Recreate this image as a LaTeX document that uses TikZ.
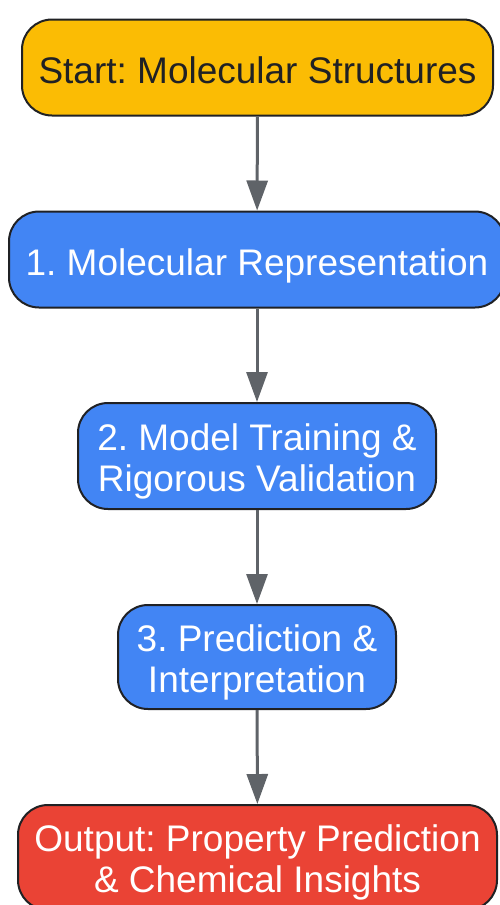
\documentclass[tikz,border=0pt]{standalone}
\usepackage{fontspec}
\setmainfont{Liberation Sans}
\usetikzlibrary{arrows.meta}
\definecolor{startyellow}{HTML}{FBBC04}
\definecolor{stepblue}{HTML}{4285F4}
\definecolor{outred}{HTML}{EA4335}
\definecolor{boxline}{HTML}{202124}
\definecolor{arrowgray}{HTML}{5F6368}
\frenchspacing
\begin{document}
\begin{tikzpicture}[x=1pt,y=1pt,
  box/.style={draw=boxline,line width=2pt,rounded corners=30pt,align=center,inner sep=0pt,text=white,text height=31pt,text depth=0pt,font=\fontsize{37}{41}\selectfont},
  twoline/.style={text height=72pt,text depth=2pt},
  flow/.style={draw=arrowgray,line width=3pt,-{Triangle[width=21pt,length=30pt]}}]
\useasboundingbox (0,0) rectangle (499,-905);
\node[box,fill=startyellow,text=boxline,minimum width=471pt,minimum height=96pt] (start) at (257.5,-67.5) {Start: Molecular Structures};
\node[box,fill=stepblue,minimum width=496pt,minimum height=96pt] (repr) at (257,-259.5) {1. Molecular Representation};
\node[box,twoline,fill=stepblue,minimum width=358pt,minimum height=106pt] (train) at (257,-456) {2. Model Training \&\\Rigorous Validation};
\node[box,twoline,fill=stepblue,minimum width=278pt,minimum height=104pt] (pred) at (257,-657) {3. Prediction \&\\Interpretation};
\node[box,twoline,fill=outred,minimum width=479pt,minimum height=105pt] (out) at (257.5,-857.5) {Output: Property Prediction\\\& Chemical Insights};
\draw[flow] (start) -- (repr);
\draw[flow] (repr) -- (train);
\draw[flow] (train) -- (pred);
\draw[flow] (pred) -- (out);
\end{tikzpicture}
\end{document}
